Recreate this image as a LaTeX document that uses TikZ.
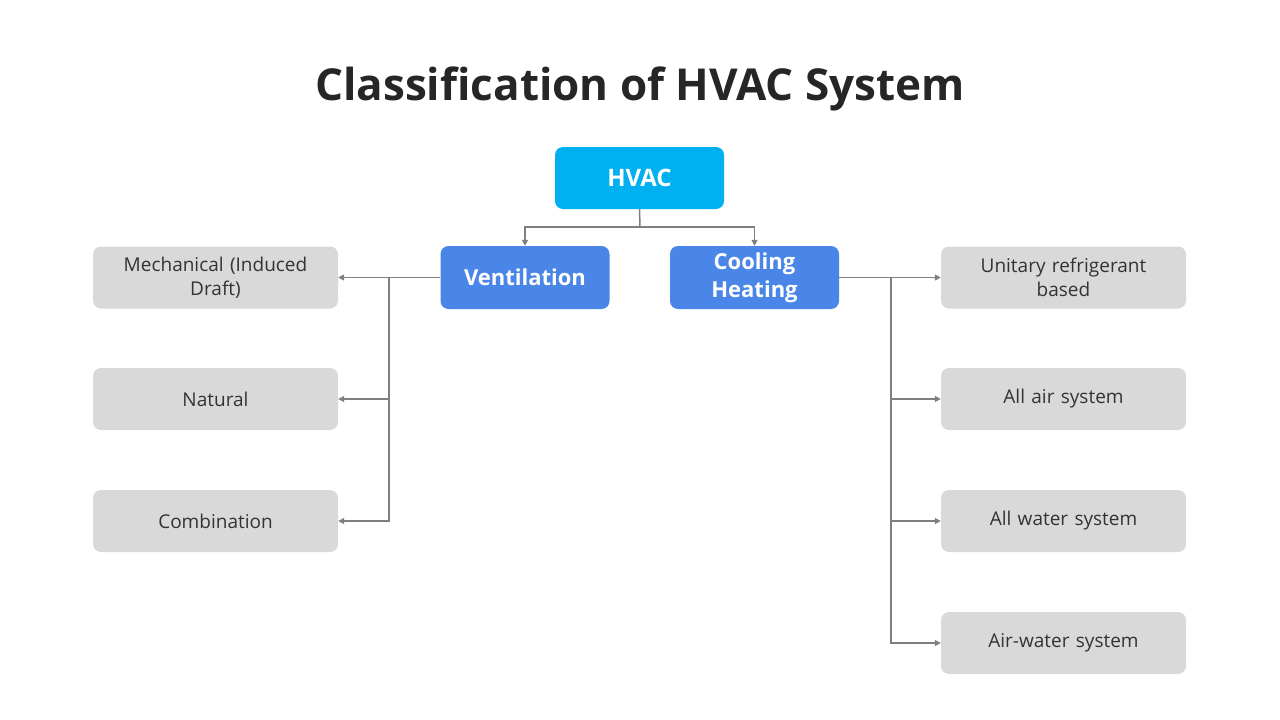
\documentclass[tikz,border=0pt]{standalone}
\usepackage{fontspec}
\setmainfont{Open Sans}
\usetikzlibrary{arrows.meta}
\definecolor{topblue}{HTML}{00B0F0}
\definecolor{midblue}{HTML}{4A86E8}
\definecolor{leafgray}{HTML}{D9D9D9}
\definecolor{linegray}{HTML}{7F7F7F}
\tikzset{
  topbox/.style={fill=topblue, rounded corners=8pt, minimum width=169pt, minimum height=62pt, text=white, font=\fontsize{24}{28}\selectfont\bfseries, align=center, inner sep=0pt},
  midbox/.style={fill=midblue, rounded corners=8pt, minimum width=169pt, minimum height=63pt, text=white, font=\fontsize{22}{28}\selectfont\bfseries, align=center, inner sep=0pt},
  leafbox/.style={fill=leafgray, rounded corners=8pt, minimum width=245pt, minimum height=62pt, text=black!80, font=\fontsize{19}{24}\selectfont, align=center, inner sep=0pt, text width=230pt},
  link/.style={draw=linegray, line width=1.5pt},
  arr/.style={link, -{Triangle[length=6pt,width=6pt]}}
}
\begin{document}
\begin{tikzpicture}[x=1pt,y=-1pt]
\useasboundingbox (0,0) rectangle (1280,720);

% title
\node (title) at (640,89) {\fontsize{44}{52}\selectfont\bfseries\color{black!85}Classification of HVAC System};

% boxes
\node[topbox] (hvac) at (639.5,178) {HVAC};
\node[midbox] (vent) at (525,277.5) {Ventilation};
\node[midbox] (cool) at (754.5,277.5) {Cooling\\Heating};

\node[leafbox] (mech) at (215.5,277.5) {Mechanical (Induced\\Draft)};
\node[leafbox] (nat) at (215.5,399) {Natural};
\node[leafbox] (comb) at (215.5,521) {Combination};

\node[leafbox] (unit) at (1063.5,277.5) {Unitary refrigerant\\based};
\node[leafbox] (air) at (1063.5,399) {All air system};
\node[leafbox] (water) at (1063.5,521) {All water system};
\node[leafbox] (airw) at (1063.5,643) {Air-water system};

% connectors
\coordinate (split) at (640,227);
\draw[link] (hvac.south) -- (split);
\draw[arr] (split) -| (vent.north);
\draw[arr] (split) -| (cool.north);

\coordinate (vbus) at (389,277.5);
\draw[arr] (vent.west) -- (mech.east);
\draw[arr] (vbus) |- (nat.east);
\draw[arr] (vbus) |- (comb.east);

\coordinate (cbus) at (891,277.5);
\draw[arr] (cool.east) -- (unit.west);
\draw[arr] (cbus) |- (air.west);
\draw[arr] (cbus) |- (water.west);
\draw[arr] (cbus) |- (airw.west);

\end{tikzpicture}
\end{document}
